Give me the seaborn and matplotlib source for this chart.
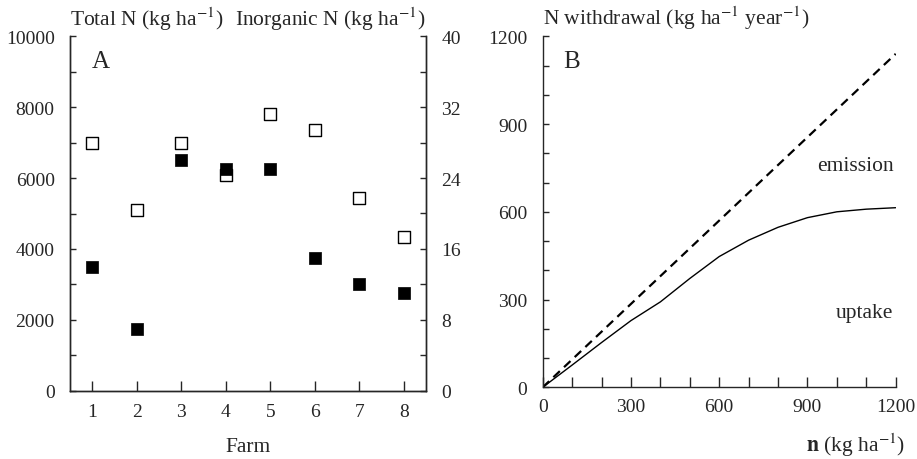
import matplotlib
matplotlib.use("Agg")
import matplotlib.pyplot as plt
import seaborn as sns
import numpy as np
import pandas as pd
from matplotlib.ticker import MultipleLocator

# ---- data ----
farms = [1, 2, 3, 4, 5, 6, 7, 8]
total_n = [7000, 5100, 7000, 6100, 7800, 7350, 5450, 4330]       # open squares, left axis
inorganic_n = [14, 7, 26, 25, 25, 15, 12, 11]                   # filled squares, right axis

n_applied = [0, 100, 200, 300, 400, 500, 600, 700, 800, 900, 1000, 1100, 1200]
uptake = [0, 76, 153, 228, 292, 372, 447, 503, 547, 580, 600, 609, 614]
total_line_x = [0, 1200]
total_line_y = [0, 1140]

sns.set_style("ticks")
plt.rcParams['font.family'] = ['Liberation Serif', 'DejaVu Serif']
plt.rcParams['mathtext.fontset'] = 'stix'
plt.rcParams['axes.linewidth'] = 1.0
FS = 14
LFS = 15.5

fig = plt.figure(figsize=(9.17, 4.6), dpi=100)
axA = fig.add_axes([70/917, 1-391.7/460, (426-70)/917, (391.7-37.3)/460])
axB = fig.add_axes([542.7/917, 1-388.3/460, (895.7-542.7)/917, (388.3-37.3)/460])
ax2 = axA.twinx()

df_a = pd.DataFrame({"farm": farms, "total": total_n, "inorg": inorganic_n})
sns.scatterplot(data=df_a, x="farm", y="total", marker="s", s=66,
                facecolor="white", edgecolor="black", linewidth=1.0, ax=axA, zorder=3)
sns.scatterplot(data=df_a, x="farm", y="inorg", marker="s", s=66,
                color="black", edgecolor="black", linewidth=0.5, ax=ax2, zorder=3)

axA.set_xlim(0.5, 8.5)
axA.set_ylim(0, 10000)
ax2.set_ylim(0, 40)
axA.set_xticks(farms)
axA.yaxis.set_major_locator(MultipleLocator(2000))
axA.yaxis.set_minor_locator(MultipleLocator(1000))
ax2.yaxis.set_major_locator(MultipleLocator(8))
ax2.yaxis.set_minor_locator(MultipleLocator(4))
axA.set_xlabel("")
axA.set_ylabel("")
ax2.set_ylabel("")
for a in (axA, ax2):
    a.spines['top'].set_visible(False)
axA.spines['right'].set_visible(True)
ax2.spines['right'].set_visible(True)

axA.tick_params(axis='x', which='both', direction='in', length=7, width=1.0,
                labelsize=FS, pad=9, top=False)
axA.tick_params(axis='y', which='both', direction='in', length=4.5, width=1.0,
                labelsize=FS, pad=11, right=False)
ax2.tick_params(axis='y', which='both', direction='in', length=4.5, width=1.0,
                labelsize=FS, pad=11)
axA.text(0.061, 0.93, "A", transform=axA.transAxes, fontsize=18,
         ha='left', va='center')

# ---- panel B ----
df_b = pd.DataFrame({"n": n_applied, "uptake": uptake})
df_t = pd.DataFrame({"n": total_line_x, "total": total_line_y})
sns.lineplot(data=df_b, x="n", y="uptake", color="black", lw=1.0, ax=axB)
sns.lineplot(data=df_t, x="n", y="total", color="black", lw=1.6, ax=axB,
             linestyle=(0, (4, 2.6)))
axB.set_xlim(0, 1200)
axB.set_ylim(0, 1200)
axB.xaxis.set_major_locator(MultipleLocator(300))
axB.xaxis.set_minor_locator(MultipleLocator(100))
axB.yaxis.set_major_locator(MultipleLocator(300))
axB.yaxis.set_minor_locator(MultipleLocator(100))
axB.set_xlabel("")
axB.set_ylabel("")
axB.spines['top'].set_visible(False)
axB.spines['right'].set_visible(False)
axB.tick_params(axis='x', which='both', direction='in', length=7, width=1.0,
                labelsize=FS, pad=8)
axB.tick_params(axis='y', which='both', direction='in', length=4.5, width=1.0,
                labelsize=FS, pad=11)
axB.text(0.0575, 0.931, "B", transform=axB.transAxes, fontsize=18,
         ha='left', va='center')
axB.text(1192, 758, "emission", fontsize=LFS, ha='right', va='center')
axB.text(1192, 257, "uptake", fontsize=LFS, ha='right', va='center')

# ---- axis titles ----
fig.text(70/917, 1-26/460, "Total N (kg ha$^{-1}$)", fontsize=LFS, ha='left', va='baseline')
fig.text(425/917, 1-26/460, "Inorganic N (kg ha$^{-1}$)", fontsize=LFS, ha='right', va='baseline')
fig.text(542.7/917, 1-25/460, "N withdrawal (kg ha$^{-1}$ year$^{-1}$)", fontsize=LFS,
         ha='left', va='baseline')
fig.text(248/917, 1-452/460, "Farm", fontsize=LFS, ha='center', va='baseline')
fig.text(905/917, 1-452/460, r"$\mathbf{n}$ (kg ha$^{-1}$)", fontsize=LFS,
         ha='right', va='baseline')

fig.savefig("out.png", dpi=100, facecolor="white")
